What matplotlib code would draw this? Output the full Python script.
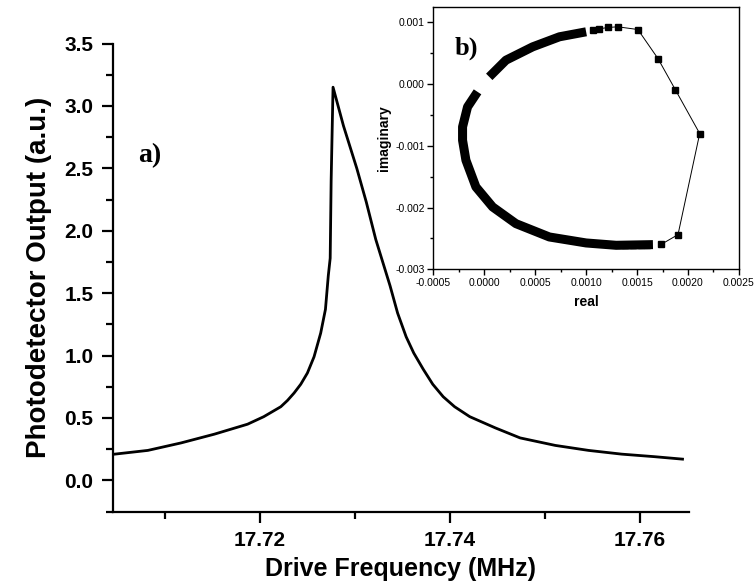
import matplotlib
matplotlib.use("Agg")
import matplotlib.pyplot as plt
from matplotlib.ticker import MultipleLocator, FormatStrFormatter

plt.rcParams['font.family'] = ['Liberation Sans', 'DejaVu Sans']

# main curve: drive frequency (MHz) vs photodetector output (a.u.)
freq = [17.7047, 17.7082, 17.7117, 17.7152, 17.7187, 17.7204, 17.7222,
        17.7229, 17.7236, 17.7243, 17.7250, 17.7257, 17.7264, 17.7269,
        17.7272, 17.7274, 17.7275, 17.7277, 17.7288, 17.7302, 17.7312,
        17.7322, 17.7337, 17.7345, 17.7354, 17.7362, 17.7372, 17.7382,
        17.7393, 17.7405, 17.7421, 17.7448, 17.7474, 17.7511, 17.7546,
        17.7581, 17.7615, 17.7645]
signal = [0.21, 0.24, 0.30, 0.37, 0.45, 0.51, 0.59,
          0.64, 0.70, 0.77, 0.86, 0.99, 1.18, 1.37,
          1.64, 1.78, 2.40, 3.15, 2.84, 2.50, 2.23,
          1.93, 1.56, 1.34, 1.15, 1.02, 0.89, 0.77,
          0.67, 0.59, 0.51, 0.42, 0.34, 0.28, 0.24,
          0.21, 0.19, 0.17]

# inset: dense arcs (upper and lower branch) and sparse points
upper_re = [0.000049, 0.000213, 0.000475, 0.000738, 0.001000]
upper_im = [0.000119, 0.000389, 0.000605, 0.000768, 0.000849]
lower_re = [-0.000066, -0.000164, -0.000213, -0.000213, -0.000180, -0.000082,
            0.000082, 0.000311, 0.000639, 0.001000, 0.001295, 0.001656]
lower_im = [-0.000124, -0.000368, -0.000692, -0.000908, -0.001232, -0.001665,
            -0.001989, -0.002260, -0.002476, -0.002573, -0.002611, -0.002600]
sparse_re = [0.001066, 0.001130, 0.001213, 0.001311, 0.001508, 0.001705,
             0.001875, 0.002115, 0.001902, 0.001738]
sparse_im = [0.000876, 0.000897, 0.000919, 0.000930, 0.000886, 0.000416,
             -0.000087, -0.000800, -0.002438, -0.002595]
end_re = [0.001380, 0.001460, 0.001540, 0.001600]
end_im = [-0.002612, -0.002612, -0.002610, -0.002605]

fig = plt.figure(figsize=(7.54, 5.88), dpi=100)
ax = fig.add_axes([0.1495, 0.130, 0.7645, 0.796])

ax.plot(freq, signal, color='black', linewidth=2.0)
ax.set_xlim(17.7045, 17.7652)
ax.set_ylim(-0.25, 3.5)
ax.spines['top'].set_visible(False)
ax.spines['right'].set_visible(False)
for s in ['left', 'bottom']:
    ax.spines[s].set_linewidth(1.6)
ax.xaxis.set_major_locator(MultipleLocator(0.02))
ax.xaxis.set_minor_locator(MultipleLocator(0.01))
ax.yaxis.set_major_locator(MultipleLocator(0.5))
ax.yaxis.set_minor_locator(MultipleLocator(0.25))
ax.xaxis.set_major_formatter(FormatStrFormatter('%.2f'))
ax.yaxis.set_major_formatter(FormatStrFormatter('%.1f'))
ax.tick_params(which='both', direction='out', width=1.6)
ax.tick_params(which='major', length=8, labelsize=15, pad=6)
ax.tick_params(which='minor', length=5)
for lbl in ax.get_xticklabels() + ax.get_yticklabels():
    lbl.set_fontweight('bold')
ax.set_xlabel('Drive Frequency (MHz)', fontsize=18, fontweight='bold', labelpad=5)
ax.set_ylabel('Photodetector Output (a.u.)', fontsize=20, fontweight='bold', labelpad=9)
ax.text(17.7084, 2.6, 'a)', fontsize=20, fontweight='bold', family='Liberation Serif',
        ha='center', va='center')

# inset
ins = fig.add_axes([0.5747, 0.542, 0.4053, 0.446])
ins.plot(upper_re, upper_im, color='black', linewidth=6.5, solid_capstyle='butt')
ins.plot(lower_re, lower_im, color='black', linewidth=6.5, solid_capstyle='butt')
ins.plot(sparse_re, sparse_im, color='black', linewidth=0.7, marker='s', markersize=4.5)
ins.plot(end_re, end_im, color='black', linestyle='none', marker='s', markersize=4.5)
ins.set_xlim(-0.0005, 0.0025)
ins.set_ylim(-0.003, 0.00125)
ins.xaxis.set_major_locator(MultipleLocator(0.0005))
ins.xaxis.set_minor_locator(MultipleLocator(0.00025))
ins.yaxis.set_major_locator(MultipleLocator(0.001))
ins.yaxis.set_minor_locator(MultipleLocator(0.0005))
ins.xaxis.set_major_formatter(FormatStrFormatter('%.4f'))
ins.yaxis.set_major_formatter(FormatStrFormatter('%.3f'))
ins.tick_params(which='both', direction='out', width=1.0, labelsize=7.5)
ins.tick_params(which='major', length=4, pad=2)
ins.tick_params(which='minor', length=2.5)
for s in ins.spines.values():
    s.set_linewidth(1.0)
ins.set_xlabel('real', fontsize=10, fontweight='bold', labelpad=5)
ins.set_ylabel('imaginary', fontsize=10, fontweight='bold', labelpad=3)
ins.text(-0.00018, 0.00058, 'b)', fontsize=19, fontweight='bold', family='Liberation Serif',
         ha='center', va='center')

fig.savefig('out.png', dpi=100)
